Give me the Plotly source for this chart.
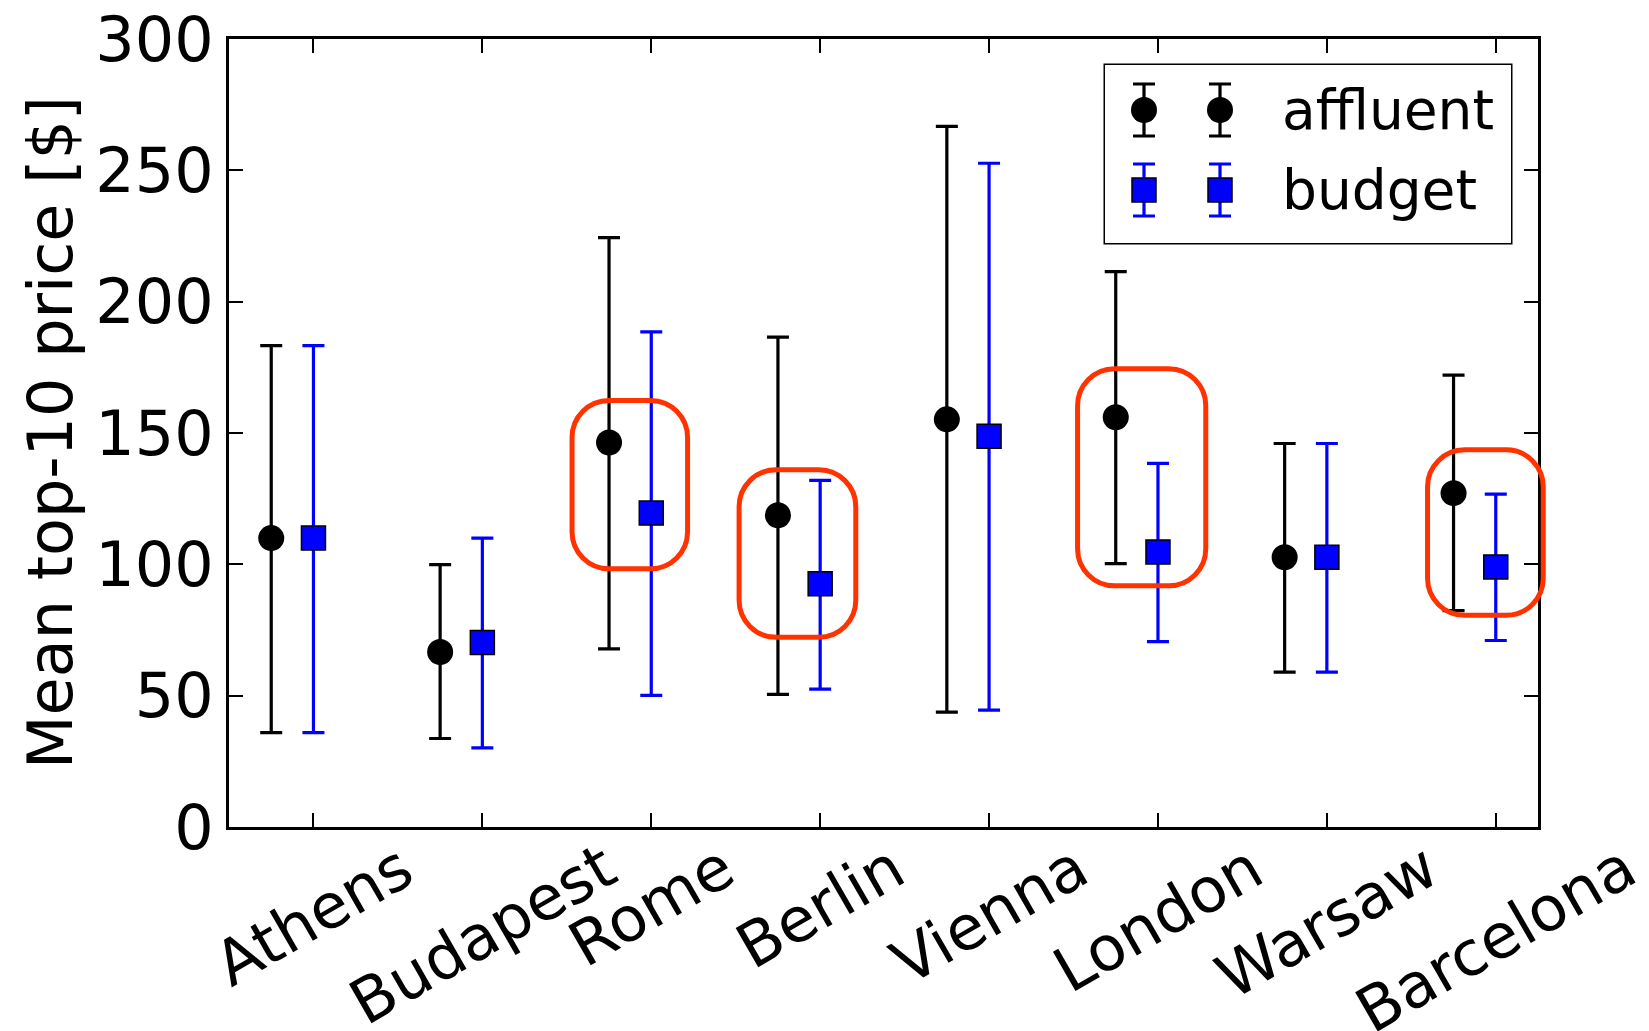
import plotly.graph_objects as go

# ---- data ----
cities = ["Athens", "Budapest", "Rome", "Berlin", "Vienna", "London", "Warsaw", "Barcelona"]

affluent_mean = [110.0, 66.6, 146.4, 118.7, 155.2, 156.0, 102.7, 127.1]
affluent_upper = [183.3, 99.9, 224.4, 186.5, 266.7, 211.4, 146.0, 172.0]
affluent_lower = [35.9, 33.7, 67.8, 50.5, 43.7, 100.3, 59.0, 82.4]

budget_mean = [110.0, 70.2, 119.5, 92.6, 148.8, 104.7, 102.7, 99.0]
budget_upper = [183.3, 110.0, 188.5, 132.0, 252.7, 138.4, 146.0, 126.7]
budget_lower = [35.9, 30.1, 50.1, 52.5, 44.5, 70.6, 59.0, 71.0]

series_names = ["affluent", "budget"]

# highlighted pairs (red rounded boxes), in data units
highlight_x0 = [2.531, 3.520, 5.524, 7.596]
highlight_x1 = [3.215, 4.211, 6.283, 8.281]
highlight_y0 = [98.3, 72.2, 91.8, 80.6]
highlight_y1 = [162.4, 136.0, 174.5, 143.6]

# ---- layout constants ----
W, H = 1649, 1031
ML, MR, MT, MB = 229, 111, 39, 204
PW, PH = W - ML - MR, H - MT - MB
XR = [0.5, 8.25]
YR = [0, 300]
FONT = "DejaVu Sans"

STYLE = {
    "affluent": dict(symbol="circle", size=26, color="black", line=dict(width=0), ecolor="black"),
    "budget": dict(symbol="square", size=24, color="#0000ff", line=dict(width=1.5, color="black"),
                   ecolor="#0000ff"),
}

pos_b = [i + 1 for i in range(len(cities))]
pos_a = [p - 0.25 for p in pos_b]

fig = go.Figure()
for name, xs, mean, up, lo in [
    ("affluent", pos_a, affluent_mean, affluent_upper, affluent_lower),
    ("budget", pos_b, budget_mean, budget_upper, budget_lower),
]:
    st = STYLE[name]
    fig.add_trace(go.Scatter(
        x=xs, y=mean, mode="markers", name=name, showlegend=False,
        marker=dict(symbol=st["symbol"], size=st["size"], color=st["color"], line=st["line"]),
        error_y=dict(type="data", symmetric=False,
                     array=[u - m for u, m in zip(up, mean)],
                     arrayminus=[m - l for m, l in zip(mean, lo)],
                     color=st["ecolor"], thickness=3.2, width=11),
    ))

# ---- legend (matplotlib style: two sample markers with error bars) ----
LB = dict(x0=1105, x1=1511, y0=65, y1=243)  # pixels
leg_dom_x = [(LB["x0"] - ML) / PW, (LB["x1"] - ML) / PW]
leg_dom_y = [(H - MB - LB["y1"]) / PH, (H - MB - LB["y0"]) / PH]
leg_h = LB["y1"] - LB["y0"]
leg_w = LB["x1"] - LB["x0"]
row_px = [110, 190]
sample_px = [1144, 1220]
for name, rp in zip(series_names, row_px):
    st = STYLE[name]
    yy = (LB["y1"] - rp) / leg_h
    fig.add_trace(go.Scatter(
        x=[(s - LB["x0"]) / leg_w for s in sample_px], y=[yy, yy],
        xaxis="x2", yaxis="y2", mode="markers", showlegend=False, hoverinfo="skip",
        marker=dict(symbol=st["symbol"], size=st["size"], color=st["color"], line=st["line"]),
        error_y=dict(type="constant", value=26 / leg_h, color=st["ecolor"], thickness=3.2, width=11),
    ))


def px(xv):
    return (xv - XR[0]) / (XR[1] - XR[0])


def py(yv):
    return (yv - YR[0]) / (YR[1] - YR[0])


rx = 37 / PW
ry = 37 / PH
k = 0.5523
shapes = [dict(type="rect", xref="paper", yref="paper",
               x0=leg_dom_x[0], x1=leg_dom_x[1], y0=leg_dom_y[0], y1=leg_dom_y[1],
               line=dict(color="black", width=3), fillcolor="white", layer="below")]
for x0, x1, y0, y1 in zip(highlight_x0, highlight_x1, highlight_y0, highlight_y1):
    a, b = px(x0), px(x1)
    c, d = py(y0), py(y1)
    path = (
        f"M {a + rx} {c} L {b - rx} {c} "
        f"C {b - rx + k * rx} {c} {b} {c + ry - k * ry} {b} {c + ry} "
        f"L {b} {d - ry} "
        f"C {b} {d - ry + k * ry} {b - rx + k * rx} {d} {b - rx} {d} "
        f"L {a + rx} {d} "
        f"C {a + rx - k * rx} {d} {a} {d - ry + k * ry} {a} {d - ry} "
        f"L {a} {c + ry} "
        f"C {a} {c + ry - k * ry} {a + rx - k * rx} {c} {a + rx} {c} Z"
    )
    shapes.append(dict(type="path", xref="paper", yref="paper", path=path,
                       line=dict(color="#ff3300", width=5), layer="above"))

annotations = []
for p, name in zip(pos_b, cities):
    annotations.append(dict(x=p, y=0, xref="x", yref="paper", text=name,
                            showarrow=False, textangle=-30, xanchor="center", yanchor="top",
                            font=dict(family=FONT, size=62, color="black")))
annotations.append(dict(x=(50 - ML) / PW, y=0.5, xref="paper", yref="paper",
                        text="Mean top-10 price [$]", showarrow=False, textangle=-90,
                        xanchor="center", yanchor="middle",
                        font=dict(family=FONT, size=62, color="black")))
for name, rp in zip(series_names, row_px):
    annotations.append(dict(x=(1280 - ML) / PW, y=(H - MB - rp) / PH, xref="paper", yref="paper",
                            text=name, showarrow=False, xanchor="left", yanchor="middle",
                            font=dict(family=FONT, size=55, color="black")))

fig.update_layout(
    width=W, height=H,
    margin=dict(l=ML, r=MR, t=MT, b=MB, autoexpand=False),
    paper_bgcolor="white", plot_bgcolor="white",
    font=dict(family=FONT, color="black"),
    showlegend=False,
    xaxis=dict(range=XR, tickvals=pos_b, showticklabels=False, ticks="inside", automargin=False,
               ticklen=14, tickwidth=1.5, tickcolor="black", mirror="ticks",
               showline=True, linewidth=3, linecolor="black", showgrid=False, zeroline=False),
    yaxis=dict(range=YR, tickvals=[0, 50, 100, 150, 200, 250, 300], ticks="inside", automargin=False,
               ticklen=14, tickwidth=1.5, tickcolor="black", mirror="ticks",
               showline=True, linewidth=3, linecolor="black", showgrid=False, zeroline=False,
               tickfont=dict(family=FONT, size=62, color="black")),
    xaxis2=dict(domain=leg_dom_x, range=[0, 1], visible=False, anchor="y2", automargin=False),
    yaxis2=dict(domain=leg_dom_y, range=[0, 1], visible=False, anchor="x2", automargin=False),
    shapes=shapes,
    annotations=annotations,
)

fig.write_html("out.html", config={"displayModeBar": False},
               post_script="document.body.style.margin='0';document.body.style.overflow='hidden';")
